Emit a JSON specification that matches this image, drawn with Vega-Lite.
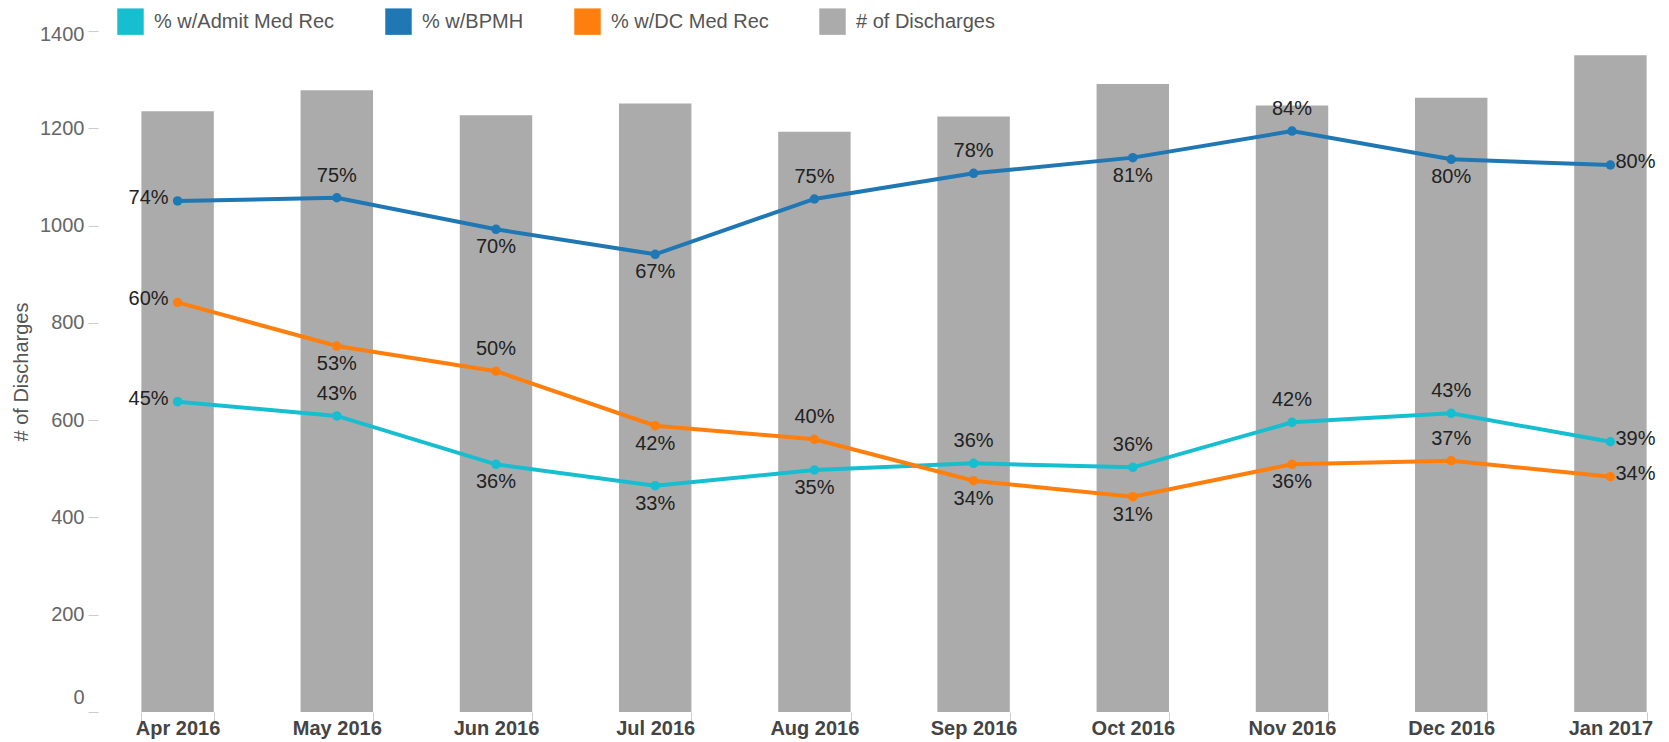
{
  "$schema": "https://vega.github.io/schema/vega-lite/v6.json",
  "autosize": {"type": "none"},
  "padding": {"left": 98, "top": 31, "right": 0, "bottom": 30},
  "width": 1571,
  "height": 681,
  "background": "white",
  "config": {
    "view": {"stroke": null},
    "font": "Liberation Sans",
    "legend": {
      "orient": "none",
      "legendX": 19,
      "legendY": -23,
      "direction": "horizontal",
      "columns": 4,
      "padding": 0,
      "title": null,
      "labelFontSize": 20,
      "labelColor": "#555555",
      "labelFont": "Liberation Sans",
      "labelLimit": 400,
      "symbolType": "square",
      "symbolSize": 700,
      "symbolStrokeWidth": 0,
      "labelOffset": 10,
      "columnPadding": 50
    }
  },
  "datasets": {
    "discharges": [
      {"month": "Apr 2016", "discharges": 1235},
      {"month": "May 2016", "discharges": 1278},
      {"month": "Jun 2016", "discharges": 1227},
      {"month": "Jul 2016", "discharges": 1251},
      {"month": "Aug 2016", "discharges": 1193},
      {"month": "Sep 2016", "discharges": 1224},
      {"month": "Oct 2016", "discharges": 1291},
      {"month": "Nov 2016", "discharges": 1247},
      {"month": "Dec 2016", "discharges": 1263},
      {"month": "Jan 2017", "discharges": 1350}
    ],
    "rates": [
      {"month": "Apr 2016", "series": "% w/Admit Med Rec", "pct": 0.4511},
      {"month": "May 2016", "series": "% w/Admit Med Rec", "pct": 0.4304},
      {"month": "Jun 2016", "series": "% w/Admit Med Rec", "pct": 0.3601},
      {"month": "Jul 2016", "series": "% w/Admit Med Rec", "pct": 0.329},
      {"month": "Aug 2016", "series": "% w/Admit Med Rec", "pct": 0.3518},
      {"month": "Sep 2016", "series": "% w/Admit Med Rec", "pct": 0.3615},
      {"month": "Oct 2016", "series": "% w/Admit Med Rec", "pct": 0.3557},
      {"month": "Nov 2016", "series": "% w/Admit Med Rec", "pct": 0.4211},
      {"month": "Dec 2016", "series": "% w/Admit Med Rec", "pct": 0.4342},
      {"month": "Jan 2017", "series": "% w/Admit Med Rec", "pct": 0.3929},
      {"month": "Apr 2016", "series": "% w/BPMH", "pct": 0.7429},
      {"month": "May 2016", "series": "% w/BPMH", "pct": 0.7476},
      {"month": "Jun 2016", "series": "% w/BPMH", "pct": 0.7017},
      {"month": "Jul 2016", "series": "% w/BPMH", "pct": 0.6654},
      {"month": "Aug 2016", "series": "% w/BPMH", "pct": 0.7458},
      {"month": "Sep 2016", "series": "% w/BPMH", "pct": 0.7831},
      {"month": "Oct 2016", "series": "% w/BPMH", "pct": 0.8059},
      {"month": "Nov 2016", "series": "% w/BPMH", "pct": 0.8445},
      {"month": "Dec 2016", "series": "% w/BPMH", "pct": 0.8035},
      {"month": "Jan 2017", "series": "% w/BPMH", "pct": 0.7952},
      {"month": "Apr 2016", "series": "% w/DC Med Rec", "pct": 0.5955},
      {"month": "May 2016", "series": "% w/DC Med Rec", "pct": 0.532},
      {"month": "Jun 2016", "series": "% w/DC Med Rec", "pct": 0.4955},
      {"month": "Jul 2016", "series": "% w/DC Med Rec", "pct": 0.4162},
      {"month": "Aug 2016", "series": "% w/DC Med Rec", "pct": 0.3964},
      {"month": "Sep 2016", "series": "% w/DC Med Rec", "pct": 0.3362},
      {"month": "Oct 2016", "series": "% w/DC Med Rec", "pct": 0.313},
      {"month": "Nov 2016", "series": "% w/DC Med Rec", "pct": 0.3601},
      {"month": "Dec 2016", "series": "% w/DC Med Rec", "pct": 0.3653},
      {"month": "Jan 2017", "series": "% w/DC Med Rec", "pct": 0.342}
    ]
  },
  "encoding": {
    "x": {
      "field": "month",
      "type": "nominal",
      "scale": {
        "domain": ["Apr 2016", "May 2016", "Jun 2016", "Jul 2016", "Aug 2016", "Sep 2016", "Oct 2016", "Nov 2016", "Dec 2016", "Jan 2017"],
        "range": [0, 1592],
        "paddingInner": 0.545,
        "paddingOuter": 0.2725
      },
      "axis": {
        "title": null,
        "domain": false,
        "grid": false,
        "tickBand": "extent",
        "tickSize": 9,
        "tickColor": "#cccccc",
        "labelAngle": 0,
        "labelFontSize": 20,
        "labelFontWeight": "bold",
        "labelColor": "#444444",
        "labelPadding": -3,
        "labelFont": "Liberation Sans"
      }
    }
  },
  "layer": [
    {
      "data": {"name": "discharges"},
      "mark": {"type": "bar", "color": "#ababab"},
      "encoding": {
        "y": {
          "field": "discharges",
          "type": "quantitative",
          "scale": {"domain": [0, 1400], "nice": false},
          "axis": {
            "title": "# of Discharges",
            "values": [0, 200, 400, 600, 800, 1000, 1200, 1400],
            "format": "d",
            "domain": false,
            "grid": false,
            "tickSize": 10,
            "tickColor": "#cccccc",
            "labelPadding": 4,
            "labelFontSize": 20,
            "labelColor": "#666666",
            "labelFont": "Liberation Sans",
            "labelFlush": false,
            "labelOffset": {"condition": [{"test": "datum.value === 0", "value": -15}, {"test": "datum.value === 1400", "value": 3}], "value": 0},
            "titleFontSize": 20,
            "titleFontWeight": "normal",
            "titleColor": "#555555",
            "titleFont": "Liberation Sans",
            "titlePadding": 8
          }
        },
        "color": {
          "datum": "# of Discharges",
          "type": "nominal",
          "scale": {
            "domain": ["% w/Admit Med Rec", "% w/BPMH", "% w/DC Med Rec", "# of Discharges"],
            "range": ["#17becf", "#1f77b4", "#ff7f0e", "#ababab"]
          },
          "legend": {
            "encode": {
              "symbols": {
                "update": {
                  "fill": {"scale": "color", "field": "value"},
                  "stroke": {"value": "transparent"},
                  "opacity": {"value": 1}
                }
              }
            }
          }
        }
      }
    },
    {
      "data": {"name": "rates"},
      "encoding": {
        "y": {
          "field": "pct",
          "type": "quantitative",
          "scale": {"domain": [0, 0.99], "nice": false},
          "axis": null
        }
      },
      "layer": [
        {
          "mark": {"type": "line", "strokeWidth": 4, "point": {"filled": true, "size": 90}},
          "encoding": {
            "color": {"field": "series", "type": "nominal"}
          }
        },
        {
          "transform": [{"filter": "datum.month === 'Apr 2016'"}],
          "mark": {"type": "text", "align": "right", "dx": -9, "dy": 3, "baseline": "alphabetic", "fontSize": 20, "font": "Liberation Sans", "color": "#222222"},
          "encoding": {"text": {"field": "pct", "type": "quantitative", "format": ".0%"}}
        },
        {
          "transform": [{"filter": "datum.month === 'Jan 2017'"}],
          "mark": {"type": "text", "align": "left", "dx": 5, "dy": 3, "baseline": "alphabetic", "fontSize": 20, "font": "Liberation Sans", "color": "#222222"},
          "encoding": {"text": {"field": "pct", "type": "quantitative", "format": ".0%"}}
        },
        {
          "transform": [{"filter": "datum.month !== 'Apr 2016' && datum.month !== 'Jan 2017' && indexof(['% w/BPMH|May 2016','% w/BPMH|Aug 2016','% w/BPMH|Sep 2016','% w/BPMH|Nov 2016','% w/Admit Med Rec|May 2016','% w/Admit Med Rec|Sep 2016','% w/Admit Med Rec|Oct 2016','% w/Admit Med Rec|Nov 2016','% w/Admit Med Rec|Dec 2016','% w/DC Med Rec|Jun 2016','% w/DC Med Rec|Aug 2016','% w/DC Med Rec|Dec 2016'], datum.series + '|' + datum.month) >= 0"}],
          "mark": {"type": "text", "align": "center", "dy": -16, "baseline": "alphabetic", "fontSize": 20, "font": "Liberation Sans", "color": "#222222"},
          "encoding": {"text": {"field": "pct", "type": "quantitative", "format": ".0%"}}
        },
        {
          "transform": [{"filter": "datum.month !== 'Apr 2016' && datum.month !== 'Jan 2017' && indexof(['% w/BPMH|May 2016','% w/BPMH|Aug 2016','% w/BPMH|Sep 2016','% w/BPMH|Nov 2016','% w/Admit Med Rec|May 2016','% w/Admit Med Rec|Sep 2016','% w/Admit Med Rec|Oct 2016','% w/Admit Med Rec|Nov 2016','% w/Admit Med Rec|Dec 2016','% w/DC Med Rec|Jun 2016','% w/DC Med Rec|Aug 2016','% w/DC Med Rec|Dec 2016'], datum.series + '|' + datum.month) < 0"}],
          "mark": {"type": "text", "align": "center", "dy": 24, "baseline": "alphabetic", "fontSize": 20, "font": "Liberation Sans", "color": "#222222"},
          "encoding": {"text": {"field": "pct", "type": "quantitative", "format": ".0%"}}
        }
      ]
    }
  ],
  "resolve": {"scale": {"y": "independent"}}
}
